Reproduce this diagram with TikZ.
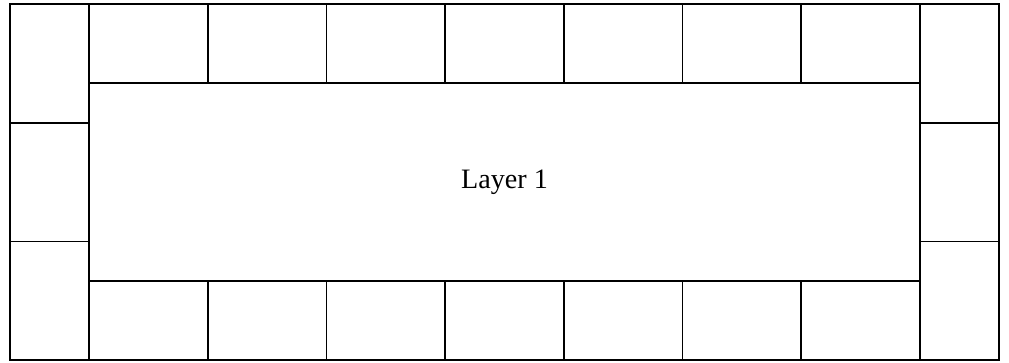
\documentclass[tikz,border=0pt]{standalone}
\usepackage{fontspec}
\setmainfont{Liberation Serif}
\usepackage{tikz}
\usetikzlibrary{
positioning
}

\begin{document}
\begin{tikzpicture}[
node distance=0cm,
every node/.style={
draw,
line width=1.5pt,
outer sep=0pt,
inner sep=0pt
},
layerbox/.style={minimum width=24.93cm,minimum height=5.94cm,font=\fontsize{24}{28}\selectfont},
rowcell/.style={minimum width=3.561cm,minimum height=2.37cm},
sidecell/.style={minimum width=2.37cm,minimum height=3.561cm}
]

\useasboundingbox (-15.135,-5.43) rectangle (15.135,5.46);

\node[layerbox] (layer1) at (0,0) {Layer 1};

% top row
\node[rowcell,anchor=south west] (t1) at (layer1.north west) {};
\node[rowcell,right=of t1] (t2) {};
\node[rowcell,right=of t2] (t3) {};
\node[rowcell,right=of t3] (t4) {};
\node[rowcell,right=of t4] (t5) {};
\node[rowcell,right=of t5] (t6) {};
\node[rowcell,right=of t6] (t7) {};

% bottom row
\node[rowcell,anchor=north west] (b1) at (layer1.south west) {};
\node[rowcell,right=of b1] (b2) {};
\node[rowcell,right=of b2] (b3) {};
\node[rowcell,right=of b3] (b4) {};
\node[rowcell,right=of b4] (b5) {};
\node[rowcell,right=of b5] (b6) {};
\node[rowcell,right=of b6] (b7) {};

% left and right columns
\node[sidecell,anchor=north east] (l1) at (t1.north west) {};
\node[sidecell,below=of l1] (l2) {};
\node[sidecell,below=of l2] (l3) {};
\node[sidecell,anchor=north west] (r1) at (t7.north east) {};
\node[sidecell,below=of r1] (r2) {};
\node[sidecell,below=of r2] (r3) {};

\end{tikzpicture}
\end{document}
